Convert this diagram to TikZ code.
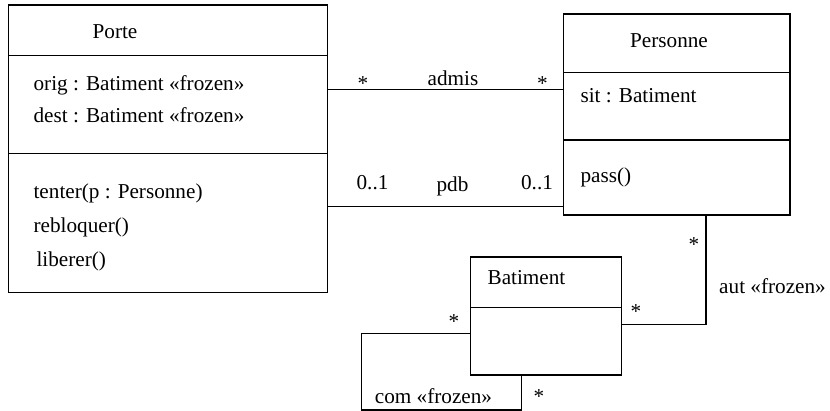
\documentclass[tikz,border=0pt]{standalone}
\usepackage{fontspec}
\setmainfont{Liberation Serif}
\usetikzlibrary{positioning, calc}

\begin{document}
\begin{tikzpicture}[x=0.5pt, y=-0.5pt, line width=0.6pt, font=\fontsize{10.6}{12.7}\selectfont]
	\tikzstyle{part}=[draw, rectangle, inner sep=0pt, outer sep=0pt]
	\tikzstyle{txt}=[inner sep=0pt, anchor=base west]
	\tikzstyle{lbl}=[inner sep=0pt, anchor=base]
	
	\useasboundingbox (0,0) rectangle (830,411);
	
	% Porte
	\node[part, minimum width=159.7pt, minimum height=25.35pt, anchor=north west] (porte_h) at (8.3,5) {};
	\node[part, minimum width=159.7pt, minimum height=48.8pt, below=0pt of porte_h] (porte_a) {};
	\node[part, minimum width=159.7pt, minimum height=69.7pt, below=0pt of porte_a] (porte_o) {};
	\node[lbl] (porte_n) at (115,39) {Porte};
	\node[txt] (orig) at (33,91) {orig : Batiment «frozen»};
	\node[txt] (dest) at (33,123) {dest : Batiment «frozen»};
	\node[txt] (tenter) at (33,199) {tenter(p : Personne)};
	\node[txt] (rebloquer) at (33,233) {rebloquer()};
	\node[txt] (liberer) at (36,267) {liberer()};
	
	% Personne
	\node[part, minimum width=113.35pt, minimum height=29.15pt, anchor=north west] (pers_h) at (563.3,14) {};
	\node[part, minimum width=113.35pt, minimum height=33.85pt, below=0pt of pers_h] (pers_a) {};
	\node[part, minimum width=113.35pt, minimum height=37.5pt, below=0pt of pers_a] (pers_o) {};
	\node[lbl] (pers_n) at (669,48) {Personne};
	\node[txt] (sit) at (580,103) {sit : Batiment};
	\node[txt] (pass) at (580,183) {pass()};
	
	% Batiment
	\node[part, minimum width=75.5pt, minimum height=25.35pt, anchor=north west] (bat_h) at (470.7,257) {};
	\node[part, minimum width=75.5pt, minimum height=33.65pt, below=0pt of bat_h] (bat_b) {};
	\node[lbl] (bat_n) at (526.5,285) {Batiment};
	
	% associations
	\coordinate (admis_r) at (563.3,89.3);
	\coordinate (pdb_r) at (563.3,206.7);
	\coordinate (aut_c) at (706,324.3);
	\coordinate (com_a) at (361.7,333.3);
	\coordinate (com_b) at (521.7,410);
	
	\draw (porte_a.east |- admis_r) -- (pers_a.west |- admis_r);
	\draw (porte_o.east |- pdb_r) -- (pers_o.west |- pdb_r);
	\draw (pers_o.south -| aut_c) -- (aut_c) -- (bat_b.east |- aut_c);
	\draw (bat_b.west |- com_a) -- (com_a) |- (com_b) -- (bat_b.south -| com_b);
	
	\node[lbl] (admis_m1) at (363,90.5) {*};
	\node[lbl] (admis) at (453,86) {admis};
	\node[lbl] (admis_m2) at (542.5,90.5) {*};
	
	\node[lbl] (pdb_m1) at (372.5,190) {0..1};
	\node[lbl] (pdb) at (452.5,192) {pdb};
	\node[lbl] (pdb_m2) at (537,190) {0..1};
	
	\node[lbl] (aut_m1) at (694,251.5) {*};
	\node[lbl] (aut) at (772.5,293) {aut «frozen»};
	\node[lbl] (aut_m2) at (636,318.5) {*};
	
	\node[lbl] (com_m1) at (454,328.5) {*};
	\node[lbl] (com) at (433.5,403) {com «frozen»};
	\node[lbl] (com_m2) at (539,403.5) {*};
\end{tikzpicture}
\end{document}
